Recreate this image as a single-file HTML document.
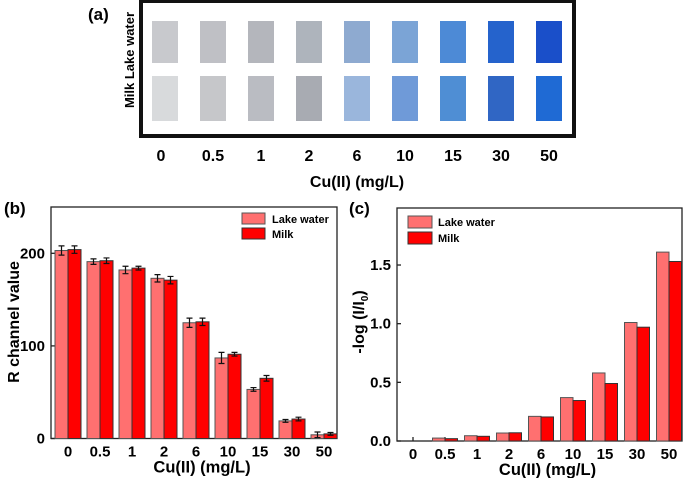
<!DOCTYPE html>
<html><head><meta charset="utf-8"><style>
body{margin:0;background:#fff;}
svg{display:block;font-family:"Liberation Sans",Arial,sans-serif;font-weight:bold;}
</style></head><body>
<svg width="685" height="478" viewBox="0 0 685 478">
<g id="pa"></g>
<g id="pb"></g>
<g id="pc"></g>
</svg>
<script>
const categories=["0","0.5","1","2","6","10","15","30","50"];
const lakeColors=["#c8c9cd","#bfc0c5","#b4b6bc","#aeb4bc","#8eaad0","#7ba4d6","#4d8ad6","#2563cc","#1a4fc9"];
const milkColors=["#d8dadc","#c6c7ca","#babcc2","#a8abb2","#9ab6dc","#6f9ad8","#4f8ed4","#3066c4","#1f6ad4"];
const rLake=[203,191,182,173,125,87,53,19,4];
const rMilk=[204,192,184,171,126,91,65,21,5];
const rLakeErr=[5,3,4,4,5,6,2,1.5,3];
const rMilkErr=[4,3,2,4,4,2,3,2,1.5];
const bTicks=[0,100,200];
const absLake=[0,0.025,0.045,0.068,0.21,0.37,0.58,1.01,1.61];
const absMilk=[0,0.02,0.04,0.07,0.205,0.345,0.49,0.97,1.53];
const cTicks=[0,0.5,1.0,1.5];
const cTickLabels=["0.0","0.5","1.0","1.5"];

const NS="http://www.w3.org/2000/svg";
function mk(parent,tag,attrs,text){const e=document.createElementNS(NS,tag);for(const k in attrs)e.setAttribute(k,attrs[k]);if(text!==undefined)e.textContent=text;parent.appendChild(e);return e;}

// Panel A
const pa=document.getElementById('pa');
let t=mk(pa,'text',{x:88,y:20,'font-size':17},'(a)');


let fr=mk(pa,'rect',{x:141,y:1,width:433,height:135,fill:'#fff',stroke:'#111','stroke-width':4});


t=mk(pa,'text',{transform:'translate(134,60) rotate(-90)','text-anchor':'middle','font-size':13},'Milk  Lake water');


categories.forEach((c,i)=>{
  const x=152+i*48;
  let r=mk(pa,'rect',{x:x,y:21,width:26,height:42,fill:lakeColors[i]});
  
  
  r=mk(pa,'rect',{x:x,y:76,width:26,height:45,fill:milkColors[i]});
  
  
  let l=mk(pa,'text',{x:x+13+(i==0?-4:0),y:161,'text-anchor':'middle','font-size':16},c);
  
  
});
t=mk(pa,'text',{x:357,y:187,'text-anchor':'middle','font-size':16},'Cu(II) (mg/L)');



function barChart(g,opt){
  const {L,T,R,B,ymax,x0,step,lake,milk,lakeErr,milkErr,ticks,tickLabels,bw}=opt;
  const ys=v=>B-(v/ymax)*(B-T);
  let f=mk(g,'rect',{x:L,y:T,width:R-L,height:B-T,fill:'none',stroke:'#222','stroke-width':1.3});
  
  
  ticks.forEach((tv,i)=>{
    const y=ys(tv);
    let tk=mk(g,'line',{x1:L,x2:L+4,y1:y,y2:y,stroke:'#222','stroke-width':1.3});
    
    
    let tl=mk(g,'text',{x:L-6,y:y+5,'text-anchor':'end','font-size':15},tickLabels[i]);
    
    
  });
  categories.forEach((c,i)=>{
    const cx=x0+i*step;
    let tk=mk(g,'line',{x1:cx,x2:cx,y1:B,y2:B-4,stroke:'#222','stroke-width':1.3});
    
    
    let tl=mk(g,'text',{x:cx,y:B+18,'text-anchor':'middle','font-size':15},c);
    
    
    let b1=mk(g,'rect',{x:cx-bw,y:ys(lake[i]),width:bw,height:B-ys(lake[i]),fill:'#ff7070',stroke:'#555','stroke-width':1});
    
    
    let b2=mk(g,'rect',{x:cx,y:ys(milk[i]),width:bw,height:B-ys(milk[i]),fill:'#ff0000',stroke:'#333','stroke-width':1});
    
    
    if(lakeErr){
      [[cx-bw/2,lake[i],lakeErr[i]],[cx+bw/2,milk[i],milkErr[i]]].forEach(([ex,v,e])=>{
        const p=`M${ex},${ys(v+e)}V${ys(v-e)}M${ex-3},${ys(v+e)}H${ex+3}M${ex-3},${ys(v-e)}H${ex+3}`;
        let eb=mk(g,'path',{d:p,stroke:'#111','stroke-width':1.2,fill:'none'});
        
        
      });
    }
  });
  let xt=mk(g,'text',{x:(L+R)/2+8,y:B+34,'text-anchor':'middle','font-size':16.5},'Cu(II) (mg/L)');
  
  
}

// Panel B
const pb=document.getElementById('pb');
t=mk(pb,'text',{x:4,y:214,'font-size':17},'(b)');


barChart(pb,{L:51,T:207,R:337,B:438.5,ymax:250,x0:68,step:32,lake:rLake,milk:rMilk,lakeErr:rLakeErr,milkErr:rMilkErr,ticks:bTicks,tickLabels:bTicks.map(String),bw:13});
t=mk(pb,'text',{transform:'translate(19,322) rotate(-90)','text-anchor':'middle','font-size':16},'R channel  value');


let lg=mk(pb,'g',{});


let le=mk(lg,'rect',{x:242,y:213,width:23,height:11,fill:'#ff7070',stroke:'#555'});


le=mk(lg,'text',{x:272,y:223,'font-size':11},'Lake water');


le=mk(lg,'rect',{x:242,y:228,width:23,height:11,fill:'#ff0000',stroke:'#333'});


le=mk(lg,'text',{x:272,y:238,'font-size':11},'Milk');



// Panel C
const pc=document.getElementById('pc');
t=mk(pc,'text',{x:349,y:214,'font-size':17},'(c)');


barChart(pc,{L:397,T:208,R:682,B:441,ymax:1.986,x0:413,step:32,lake:absLake,milk:absMilk,ticks:cTicks,tickLabels:cTickLabels,bw:12.5});
t=mk(pc,'text',{transform:'translate(364,322) rotate(-90)','text-anchor':'middle','font-size':16},'-log (I/I');


mk(t,'tspan',{'font-size':10,dy:4},'0');
mk(t,'tspan',{dy:-4},')');
lg=mk(pc,'g',{});


le=mk(lg,'rect',{x:408,y:216,width:24,height:12,fill:'#ff7070',stroke:'#555'});


le=mk(lg,'text',{x:438,y:226,'font-size':11},'Lake water');


le=mk(lg,'rect',{x:408,y:232,width:24,height:12,fill:'#ff0000',stroke:'#333'});


le=mk(lg,'text',{x:438,y:242,'font-size':11},'Milk');


</script>
</body></html>
